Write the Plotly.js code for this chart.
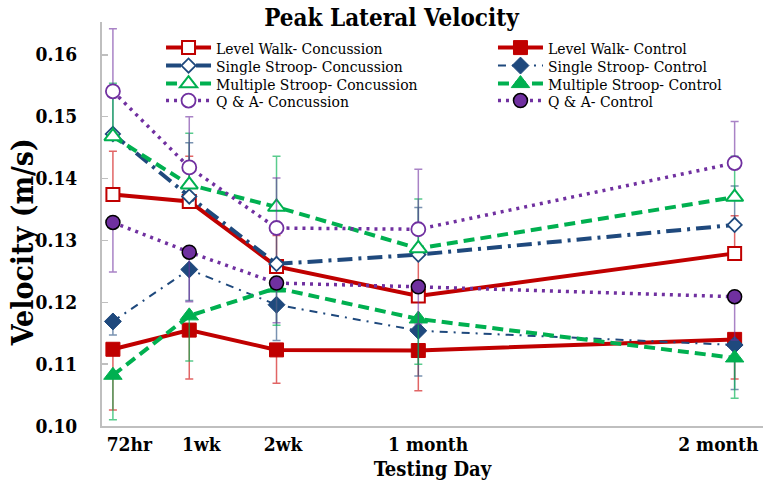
<!DOCTYPE html>
<html><head><meta charset="utf-8">
<script src="https://cdn.plot.ly/plotly-3.0.1.min.js"></script>
<style>html,body{margin:0;padding:0;background:#fff}#chart{width:763px;height:486px}</style>
</head><body><div id="chart"></div>
<script>
// Testing day (days since injury) and label text
const testingDay = [1, 8, 16, 29, 58];
const dayLabels = ['72hr', '1wk', '2wk', '1 month', '2 month'];
const dayLabelPos = [2.5, 9.1, 16.6, 29.9, 56.5];

const seriesNames = [
  'Level Walk- Concussion', 'Level Walk- Control',
  'Single Stroop- Concussion', 'Single Stroop- Control',
  'Multiple Stroop- Concussion', 'Multiple Stroop- Control',
  'Q & A- Concussion', 'Q & A- Control'
];

// Peak lateral velocity (m/s)
const levelWalkConc = [0.1374, 0.1363, 0.1258, 0.1210, 0.1279];
const levelWalkCtrl = [0.1124, 0.1155, 0.1123, 0.1122, 0.1140];
const singleStroopConc = [0.1472, 0.1371, 0.1262, 0.1277, 0.1325];
const singleStroopCtrl = [0.1169, 0.1253, 0.1196, 0.1154, 0.1131];
const multiStroopConc = [0.1468, 0.1390, 0.1354, 0.1287, 0.1370];
const multiStroopCtrl = [0.1082, 0.1178, 0.1223, 0.1173, 0.1110];
const qaConc = [0.1541, 0.1418, 0.1320, 0.1318, 0.1425];
const qaCtrl = [0.1329, 0.1281, 0.1231, 0.1225, 0.1209];

// Error bars (concussion drawn upward, control drawn downward)
const levelWalkConcErr = [0.0070, 0.0073, 0.0050, 0.0070, 0.0061];
const levelWalkCtrlErr = [0.0098, 0.0079, 0.0054, 0.0065, 0.0064];
const singleStroopConcErr = [0.0060, 0.0087, 0.0060, 0.0076, 0.0063];
const singleStroopCtrlErr = [0.0022, 0.0050, 0.0058, 0.0073, 0.0072];
const multiStroopConcErr = [0.0086, 0.0083, 0.0082, 0.0080, 0.0066];
const multiStroopCtrlErr = [0.0072, 0.0073, 0.0060, 0.0073, 0.0065];
const qaConcErr = [0.0101, 0.0082, 0.0081, 0.0097, 0.0067];
const qaCtrlErr = [0.0080, 0.0080, 0.0064, 0.0060, 0.0070];

const RED = '#C00000', BLUE = '#1F497D', GREEN = '#00B050', PURPLE = '#7030A0';
const ERR = {
  red: 'rgba(215,50,50,0.75)', blue: 'rgba(31,73,125,0.6)',
  green: 'rgba(0,176,80,0.65)', purple: 'rgba(112,48,160,0.6)'
};
const SERIF = '"DejaVu Serif Condensed", "DejaVu Serif", serif';

function errBar(err, up, color) {
  const zero = err.map(() => 0);
  return {type: 'data', symmetric: false, array: up ? err : zero,
          arrayminus: up ? zero : err, color: color, thickness: 1.5, width: 4};
}

function trace(i, y, err, up, lineColor, lineWidth, dash, symbol, size, fill, mlColor, mlWidth, errColor, legendId) {
  return {
    type: 'scatter', mode: 'lines+markers', name: seriesNames[i],
    x: testingDay, y: y, legend: legendId,
    line: {color: lineColor, width: lineWidth, dash: dash},
    marker: {symbol: symbol, size: size, color: fill, line: {color: mlColor, width: mlWidth}},
    error_y: errBar(err, up, errColor), cliponaxis: false
  };
}

const data = [
  trace(0, levelWalkConc, levelWalkConcErr, true, RED, 4, 'solid', 'square', 13, '#ffffff', RED, 2, ERR.red, 'legend'),
  trace(1, levelWalkCtrl, levelWalkCtrlErr, false, RED, 4, 'solid', 'square', 14, RED, RED, 1, ERR.red, 'legend2'),
  trace(2, singleStroopConc, singleStroopConcErr, true, BLUE, 4, '15px,6px,3px,6px', 'diamond', 11, '#ffffff', BLUE, 1.8, ERR.blue, 'legend3'),
  trace(3, singleStroopCtrl, singleStroopCtrlErr, false, BLUE, 2, '8px,6px,2px,6px', 'diamond', 13, BLUE, BLUE, 1, ERR.blue, 'legend4'),
  trace(4, multiStroopConc, multiStroopConcErr, true, GREEN, 4, '11px,6px', 'triangle-up', 15, '#ffffff', GREEN, 2, ERR.green, 'legend5'),
  trace(5, multiStroopCtrl, multiStroopCtrlErr, false, GREEN, 4, '11px,6px', 'triangle-up', 16, GREEN, GREEN, 1, ERR.green, 'legend6'),
  trace(6, qaConc, qaConcErr, true, PURPLE, 3.5, '3px,5px', 'circle', 14, '#ffffff', PURPLE, 1.8, ERR.purple, 'legend7'),
  trace(7, qaCtrl, qaCtrlErr, false, PURPLE, 3.5, '3px,5px', 'circle', 14, PURPLE, '#000000', 1.5, ERR.purple, 'legend8')
];

function leg(x, y) {
  return {x: x, y: y, xanchor: 'left', yanchor: 'middle', bgcolor: 'rgba(0,0,0,0)',
          borderwidth: 0, itemwidth: 45, font: {family: SERIF, size: 15.5, color: '#000'}};
}
const colL = 0.0893, colR = 0.5915;
const rowY = [0.9356, 0.8911, 0.8465, 0.8045];

const layout = {
  width: 763, height: 486,
  margin: {l: 102, r: 0, t: 22, b: 60},
  paper_bgcolor: '#ffffff', plot_bgcolor: '#ffffff',
  showlegend: true,
  font: {family: SERIF},
  title: {text: 'Peak Lateral Velocity', x: 0.513, xanchor: 'center', xref: 'container',
          y: 0.963, yanchor: 'middle', yref: 'container',
          font: {family: SERIF, size: 24, weight: 'bold', color: '#000'}},
  xaxis: {
    range: [0, 60.6], showgrid: false, zeroline: false,
    showline: true, linecolor: '#bfbfbf', linewidth: 2,
    ticks: '', tickmode: 'array', tickvals: dayLabelPos, ticktext: dayLabels,
    tickfont: {family: SERIF, size: 19, weight: 'bold', color: '#000'},
    title: {text: 'Testing Day', standoff: 8,
            font: {family: SERIF, size: 20, weight: 'bold', color: '#000'}}
  },
  yaxis: {
    range: [0.10, 0.1653], showgrid: false, zeroline: false,
    showline: true, linecolor: '#bfbfbf', linewidth: 2,
    tick0: 0.10, dtick: 0.01, tickformat: '.2f',
    ticks: 'inside', ticklen: 6, tickwidth: 1.5, tickcolor: '#bfbfbf',
    ticklabelstandoff: 19,
    tickfont: {family: SERIF, size: 19, weight: 'bold', color: '#000'}
  },
  annotations: [{
    text: 'Velocity (m/s)', textangle: -90, xref: 'paper', yref: 'paper',
    x: -0.121, y: 0.455, xanchor: 'center', yanchor: 'middle', showarrow: false,
    font: {family: SERIF, size: 30, weight: 'bold', color: '#000'}
  }],
  legend: leg(colL, rowY[0]), legend2: leg(colR, rowY[0]),
  legend3: leg(colL, rowY[1]), legend4: leg(colR, rowY[1]),
  legend5: leg(colL, rowY[2]), legend6: leg(colR, rowY[2]),
  legend7: leg(colL, rowY[3]), legend8: leg(colR, rowY[3])
};

Plotly.newPlot('chart', data, layout, {displayModeBar: false, staticPlot: true});
</script>
</body></html>
